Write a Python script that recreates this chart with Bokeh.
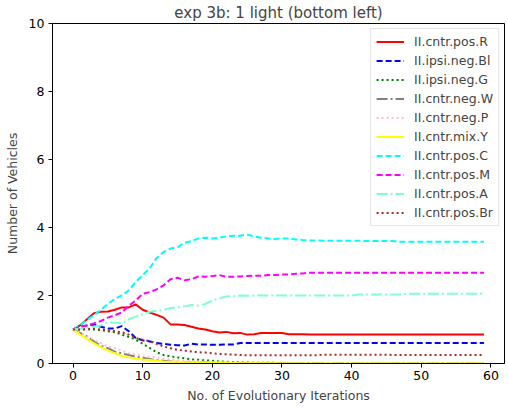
from bokeh.plotting import figure
from bokeh.models import Legend, LegendItem, FixedTicker, Range1d
from bokeh.embed import file_html
from bokeh.resources import INLINE

iterations = list(range(60))

names = ["II.cntr.pos.R", "II.ipsi.neg.Bl", "II.ipsi.neg.G", "II.cntr.neg.W", "II.cntr.neg.P",
         "II.cntr.mix.Y", "II.cntr.pos.C", "II.cntr.pos.M", "II.cntr.pos.A", "II.cntr.pos.Br"]

red = [1.0, 1.12, 1.3, 1.48, 1.52, 1.53, 1.58, 1.65, 1.65, 1.74,
       1.58, 1.5, 1.43, 1.35, 1.15, 1.15, 1.13, 1.08, 1.03, 1.0,
       0.95, 0.91, 0.93, 0.89, 0.9, 0.85, 0.86, 0.9, 0.9, 0.9,
       0.9, 0.86, 0.86, 0.86, 0.85, 0.85, 0.85, 0.85, 0.85, 0.85,
       0.85, 0.85, 0.85, 0.85, 0.85, 0.85, 0.85, 0.85, 0.85, 0.85,
       0.85, 0.85, 0.85, 0.85, 0.85, 0.85, 0.85, 0.85, 0.85, 0.85]
blue = [1.0, 1.08, 1.12, 1.15, 1.08, 1.03, 1.03, 1.1, 0.95, 0.75,
        0.68, 0.65, 0.6, 0.58, 0.55, 0.54, 0.53, 0.58, 0.56, 0.56,
        0.55, 0.55, 0.56, 0.56, 0.6, 0.6, 0.6, 0.6, 0.6, 0.6,
        0.6, 0.6, 0.6, 0.6, 0.6, 0.6, 0.6, 0.6, 0.6, 0.6,
        0.6, 0.6, 0.6, 0.6, 0.6, 0.6, 0.6, 0.6, 0.6, 0.6,
        0.6, 0.6, 0.6, 0.6, 0.6, 0.6, 0.6, 0.6, 0.6, 0.6]
green = [1.0, 1.0, 1.02, 1.0, 0.98, 0.95, 0.92, 0.85, 0.78, 0.7,
         0.58, 0.46, 0.33, 0.25, 0.21, 0.18, 0.15, 0.12, 0.11, 0.09,
         0.08, 0.06, 0.05, 0.04, 0.03, 0.03, 0.02, 0.02, 0.02, 0.02,
         0.01, 0.01, 0.01, 0.01, 0.01, 0.0, 0.0, 0.0, 0.0, 0.0,
         0.0, 0.0, 0.0, 0.0, 0.0, 0.0, 0.0, 0.0, 0.0, 0.0,
         0.0, 0.0, 0.0, 0.0, 0.0, 0.0, 0.0, 0.0, 0.0, 0.0]
gray = [1.0, 0.9, 0.8, 0.65, 0.52, 0.45, 0.35, 0.3, 0.25, 0.2,
        0.17, 0.13, 0.1, 0.08, 0.06, 0.05, 0.04, 0.04, 0.03, 0.03,
        0.02, 0.02, 0.02, 0.02, 0.01, 0.01, 0.01, 0.01, 0.01, 0.01,
        0.01, 0.01, 0.0, 0.0, 0.0, 0.0, 0.0, 0.0, 0.0, 0.0,
        0.0, 0.0, 0.0, 0.0, 0.0, 0.0, 0.0, 0.0, 0.0, 0.0,
        0.0, 0.0, 0.0, 0.0, 0.0, 0.0, 0.0, 0.0, 0.0, 0.0]
pink = [1.0, 0.9, 0.8, 0.7, 0.6, 0.5, 0.45, 0.38, 0.3, 0.28,
        0.22, 0.2, 0.18, 0.15, 0.12, 0.1, 0.08, 0.07, 0.06, 0.05,
        0.04, 0.04, 0.03, 0.03, 0.02, 0.02, 0.02, 0.02, 0.01, 0.01,
        0.01, 0.01, 0.01, 0.01, 0.0, 0.0, 0.0, 0.0, 0.0, 0.0,
        0.0, 0.0, 0.0, 0.0, 0.0, 0.0, 0.0, 0.0, 0.0, 0.0,
        0.0, 0.0, 0.0, 0.0, 0.0, 0.0, 0.0, 0.0, 0.0, 0.0]
yellow = [1.0, 0.85, 0.72, 0.6, 0.48, 0.38, 0.3, 0.22, 0.18, 0.15,
          0.12, 0.1, 0.08, 0.06, 0.05, 0.05, 0.04, 0.03, 0.03, 0.02,
          0.02, 0.02, 0.02, 0.01, 0.01, 0.01, 0.01, 0.01, 0.01, 0.01,
          0.0, 0.0, 0.0, 0.0, 0.0, 0.0, 0.0, 0.0, 0.0, 0.0,
          0.0, 0.0, 0.0, 0.0, 0.0, 0.0, 0.0, 0.0, 0.0, 0.0,
          0.0, 0.0, 0.0, 0.0, 0.0, 0.0, 0.0, 0.0, 0.0, 0.0]
cyan = [1.0, 1.12, 1.28, 1.42, 1.58, 1.75, 1.9, 2.0, 2.15, 2.4,
        2.6, 2.8, 3.1, 3.28, 3.38, 3.42, 3.55, 3.6, 3.68, 3.7,
        3.68, 3.7, 3.74, 3.76, 3.76, 3.79, 3.74, 3.7, 3.68, 3.66,
        3.68, 3.68, 3.65, 3.63, 3.62, 3.62, 3.61, 3.61, 3.61, 3.61,
        3.61, 3.61, 3.6, 3.6, 3.6, 3.6, 3.6, 3.58, 3.58, 3.58,
        3.58, 3.58, 3.58, 3.58, 3.58, 3.58, 3.58, 3.58, 3.58, 3.58]
magenta = [1.0, 1.08, 1.12, 1.18, 1.25, 1.35, 1.42, 1.5, 1.7, 1.85,
           2.05, 2.1, 2.18, 2.3, 2.48, 2.52, 2.45, 2.48, 2.56, 2.55,
           2.57, 2.6, 2.55, 2.55, 2.56, 2.57, 2.58, 2.58, 2.6, 2.6,
           2.62, 2.62, 2.64, 2.65, 2.67, 2.67, 2.67, 2.67, 2.67, 2.67,
           2.67, 2.67, 2.67, 2.67, 2.67, 2.67, 2.67, 2.67, 2.67, 2.67,
           2.67, 2.67, 2.67, 2.67, 2.67, 2.67, 2.67, 2.67, 2.67, 2.67]
aquamarine = [1.0, 1.02, 1.05, 1.08, 1.12, 1.22, 1.2, 1.18, 1.3, 1.38,
              1.45, 1.52, 1.55, 1.58, 1.63, 1.65, 1.68, 1.72, 1.7, 1.75,
              1.85, 1.92, 1.97, 1.98, 2.0, 1.99, 2.0, 2.0, 2.0, 2.0,
              2.0, 2.0, 2.0, 2.0, 2.0, 2.0, 2.0, 2.0, 2.0, 2.0,
              2.0, 2.03, 2.03, 2.03, 2.03, 2.03, 2.03, 2.03, 2.05, 2.05,
              2.05, 2.05, 2.05, 2.05, 2.05, 2.05, 2.05, 2.05, 2.05, 2.05]
brown = [1.0, 1.0, 1.0, 1.02, 1.0, 0.97, 0.95, 0.92, 0.85, 0.75,
         0.7, 0.66, 0.58, 0.5, 0.45, 0.4, 0.38, 0.35, 0.33, 0.32,
         0.3, 0.28, 0.27, 0.26, 0.25, 0.24, 0.24, 0.24, 0.24, 0.24,
         0.24, 0.24, 0.24, 0.24, 0.24, 0.24, 0.26, 0.26, 0.26, 0.26,
         0.26, 0.26, 0.26, 0.26, 0.26, 0.26, 0.25, 0.25, 0.25, 0.25,
         0.25, 0.25, 0.25, 0.25, 0.25, 0.25, 0.25, 0.25, 0.25, 0.25]

series = [red, blue, green, gray, pink, yellow, cyan, magenta, aquamarine, brown]
colors = ["#ff0000", "#0000ff", "#008000", "#808080", "#ffc0cb",
          "#ffff00", "#00ffff", "#ff00ff", "#7fffd4", "#a52a2a"]
dashes = ["solid", "6 3", "2 3", "11 3 2 3", "2 3",
          "solid", "6 3", "6 3", "11 3 2 3", "2 3"]

x_ticks = [0, 10, 20, 30, 40, 50, 60]
y_ticks = [0, 2, 4, 6, 8, 10]

FONT = "DejaVu Sans"

p = figure(width=508, height=408, output_backend="svg", toolbar_location=None,
           x_range=Range1d(-2.95, 61.95), y_range=Range1d(0, 10),
           min_border_left=52, min_border_right=4, min_border_top=23, min_border_bottom=45)

p.title.text = "exp 3b: 1 light (bottom left)"
p.title.align = "center"
p.title.text_font = FONT
p.title.text_font_size = "15px"
p.title.text_font_style = "normal"
p.title.standoff = 3
p.title.offset = 0

items = []
for name, ys, c, d in zip(names, series, colors, dashes):
    r = p.line(iterations, ys, line_color=c, line_width=2, line_dash=d)
    items.append(LegendItem(label=name, renderers=[r]))

legend = Legend(items=items, location="top_right")
legend.label_text_font = FONT
legend.label_text_font_size = "12.5px"
legend.glyph_width = 28
legend.glyph_height = 15
legend.label_height = 15
legend.spacing = 4
legend.padding = 5
legend.margin = 5
legend.label_standoff = 10
legend.border_line_color = "#cccccc"
legend.background_fill_alpha = 0.8
p.add_layout(legend)

p.xgrid.visible = False
p.ygrid.visible = False
p.outline_line_color = "black"
p.outline_line_width = 1

p.xaxis.ticker = FixedTicker(ticks=x_ticks)
p.yaxis.ticker = FixedTicker(ticks=y_ticks)
for ax in (p.xaxis, p.yaxis):
    ax.axis_line_color = "black"
    ax.major_tick_line_color = "black"
    ax.minor_tick_line_color = None
    ax.major_tick_in = 0
    ax.major_tick_out = 4
    ax.major_label_text_font = FONT
    ax.major_label_text_font_size = "12.5px"
    ax.axis_label_text_font = FONT
    ax.axis_label_text_font_size = "12.5px"
    ax.axis_label_text_font_style = "normal"
    ax.major_label_text_color = "black"
p.xaxis.axis_label = "No. of Evolutionary Iterations"
p.yaxis.axis_label = "Number of Vehicles"
p.xaxis.axis_label_standoff = 5
p.yaxis.axis_label_standoff = 6
p.xaxis.major_label_standoff = 3
p.yaxis.major_label_standoff = 4

open("out.html", "w").write(file_html(p, INLINE))
